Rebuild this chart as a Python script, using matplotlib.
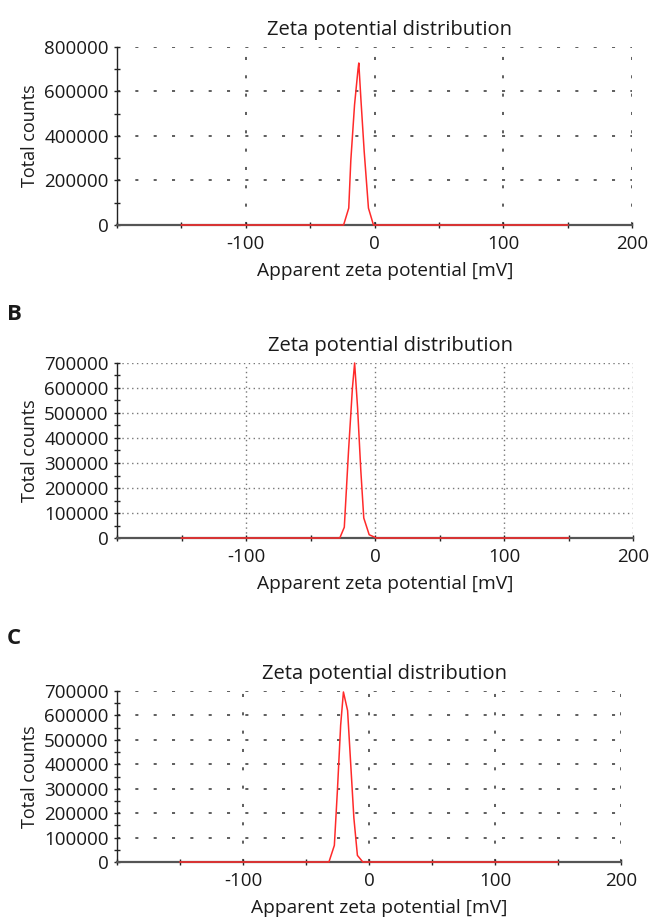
import matplotlib
matplotlib.use("Agg")
import matplotlib.pyplot as plt
from matplotlib.ticker import MultipleLocator

plt.rcParams['font.family'] = ['Open Sans', 'DejaVu Sans']
plt.rcParams['axes.unicode_minus'] = False

# apparent zeta potential [mV] and total counts
zeta_a = [-150, -24, -20, -18.4, -15.5, -12.8, -12.2, -10.5, -8, -4.7, -0.8, 150]
counts_a = [0, 0, 76000, 290000, 540000, 700000, 728000, 560000, 330000, 76000, 0, 0]

zeta_b = [-150, -27.3, -23.8, -20.5, -17.5, -15.8, -13.5, -11, -8.7, -4.5, -0.6, 1, 150]
counts_b = [0, 0, 43000, 350000, 600000, 700000, 520000, 270000, 80000, 13000, 4000, 0, 0]

zeta_c = [-150, -31.8, -27.5, -25, -22.5, -20.3, -17, -14.5, -12, -9.2, -4.9, 150]
counts_c = [0, 0, 68000, 300000, 560000, 696000, 620000, 400000, 180000, 27000, 0, 0]

title = 'Zeta potential distribution'
xlab = 'Apparent zeta potential [mV]'
ylab = 'Total counts'

W, H = 649, 923
fig = plt.figure(figsize=(W / 100, H / 100), dpi=100)


def make_axes(left, right, top, bottom):
    return fig.add_axes([left / W, 1 - bottom / H, (right - left) / W, (bottom - top) / H])


def style(ax, ymax, ymaj, ymin, dense):
    ax.set_xlim(-200, 200)
    ax.set_ylim(0, ymax)
    ax.xaxis.set_major_locator(MultipleLocator(100))
    ax.xaxis.set_minor_locator(MultipleLocator(50))
    ax.yaxis.set_major_locator(MultipleLocator(ymaj))
    ax.yaxis.set_minor_locator(MultipleLocator(ymin))
    ax.set_xticks([-100, 0, 100, 200])
    ax.set_xticklabels(['-100', '0', '100', '200'])
    for s in ['top', 'right']:
        ax.spines[s].set_visible(False)
    ax.spines['left'].set_color('#222222')
    ax.spines['left'].set_linewidth(1.0)
    ax.spines['bottom'].set_color('#555555')
    ax.spines['bottom'].set_linewidth(1.6)
    ax.tick_params(which='both', direction='inout', colors='#222222', labelsize=13.5,
                   labelcolor='#1a1a1a')
    ax.tick_params(which='major', length=5, width=1)
    ax.tick_params(which='minor', length=5, width=1)
    ax.tick_params(axis='y', which='both', length=4, pad=4)
    ax.tick_params(axis='x', which='major', pad=5)
    if dense:
        ax.grid(True, which='major', color='#777777', linewidth=1.0, linestyle=(0, (1, 2.5)))
    else:
        ax.grid(True, which='major', color='#333333', linewidth=1.1, linestyle=(0, (2, 10)))
    ax.set_axisbelow(True)
    ax.set_title(title, fontsize=14.5, color='#1a1a1a', x=0.53, pad=9)
    ax.set_xlabel(xlab, fontsize=13.8, color='#1a1a1a', x=0.52, labelpad=6)
    ax.set_ylabel(ylab, fontsize=13, color='#1a1a1a', labelpad=4)


ax_a = make_axes(117, 632, 47, 225)
ax_a.plot(zeta_a, counts_a, color='#ff2a2a', linewidth=1.1, zorder=3, clip_on=False)
style(ax_a, 800000, 200000, 100000, False)

ax_b = make_axes(117, 633, 363, 538)
ax_b.plot(zeta_b, counts_b, color='#ff2a2a', linewidth=1.1, zorder=3, clip_on=False)
style(ax_b, 700000, 100000, 50000, True)

ax_c = make_axes(117, 621, 691, 862)
ax_c.plot(zeta_c, counts_c, color='#ff2a2a', linewidth=1.1, zorder=3, clip_on=False)
style(ax_c, 700000, 100000, 50000, False)

fig.text(7 / W, 1 - 315 / H, 'B', fontsize=16, fontweight='bold', va='center', color='#1a1a1a')
fig.text(7 / W, 1 - 638 / H, 'C', fontsize=16, fontweight='bold', va='center', color='#1a1a1a')

fig.savefig('out.png', dpi=100)
